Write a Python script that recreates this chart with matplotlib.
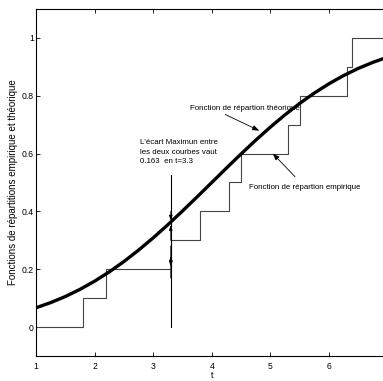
import matplotlib
matplotlib.use("Agg")
import matplotlib.pyplot as plt

# Empirical sample (jump points of the empirical CDF)
sample_t = [1.8, 2.2, 3.3, 3.8, 4.3, 4.5, 5.3, 5.5, 6.3, 6.4]
emp_t = [1.0] + sample_t + [7.0]
emp_F = [0.0, 0.1, 0.2, 0.3, 0.4, 0.5, 0.6, 0.7, 0.8, 0.9, 1.0, 1.0]

# Theoretical CDF values
theo_t = [1.0, 1.25, 1.5, 1.75, 2.0, 2.25, 2.5, 2.75, 3.0, 3.25, 3.5, 3.75, 4.0,
          4.25, 4.5, 4.75, 5.0, 5.25, 5.5, 5.75, 6.0, 6.25, 6.5, 6.75, 7.0]
theo_F = [0.0668, 0.0846, 0.1056, 0.1303, 0.1587, 0.1908, 0.2266, 0.2660, 0.3085,
          0.3538, 0.4013, 0.4503, 0.5, 0.5497, 0.5987, 0.6462, 0.6915, 0.7340,
          0.7734, 0.8092, 0.8413, 0.8697, 0.8944, 0.9154, 0.9332]

t_max = 3.3
F_emp_at = 0.2
F_theo_at = 0.363

xticks = [1, 2, 3, 4, 5, 6]
yticks = [0, 0.2, 0.4, 0.6, 0.8, 1]
ytick_labels = ["0", "0.2", "0.4", "0.6", "0.8", "1"]

plt.rcParams['font.family'] = ['Liberation Sans', 'DejaVu Sans']

fig = plt.figure(figsize=(3.83, 3.81), dpi=100)
ax = fig.add_axes([0.094, 0.0656, 0.918, 0.911])

ax.plot(emp_t, emp_F, drawstyle='steps-post', color='#454545', lw=0.8)
ax.plot(theo_t, theo_F, color='black', lw=2.4, solid_capstyle='butt')

# vertical line at t = 3.3
ax.plot([t_max, t_max], [0.0, 0.525], color='black', lw=0.8)
hp = dict(arrowstyle='-|>,head_length=0.3,head_width=0.1', color='black', lw=0.6,
          shrinkA=0, shrinkB=0)
ax.annotate('', xy=(t_max, F_theo_at - 0.01), xytext=(t_max, 0.30), arrowprops=hp)
ax.annotate('', xy=(t_max, F_theo_at + 0.005), xytext=(t_max, 0.40), arrowprops=hp)
ax.annotate('', xy=(t_max, F_emp_at + 0.01), xytext=(t_max, 0.28), arrowprops=hp)
ax.annotate('', xy=(t_max, F_emp_at + 0.045), xytext=(t_max, 0.17), arrowprops=hp)

fs = 5.7
ax.text(2.775, 0.650, "L'écart Maximun entre\nles deux courbes vaut\n0.163  en t=3.3",
        fontsize=fs, va='top', ha='left', linespacing=1.5)

ap = dict(arrowstyle='-|>,head_length=0.4,head_width=0.15', color='black', lw=0.6,
          shrinkA=0, shrinkB=0)
ax.text(4.57, 0.755, 'Fonction de répartion théorique', fontsize=fs,
        ha='center', va='center')
ax.annotate('', xy=(4.81, 0.679), xytext=(4.23, 0.735), arrowprops=ap)
ax.text(5.59, 0.484, 'Fonction de répartion empirique', fontsize=fs,
        ha='center', va='center')
ax.annotate('', xy=(5.04, 0.600), xytext=(5.42, 0.52), arrowprops=ap)

ax.set_xlim(1, 7)
ax.set_ylim(-0.1, 1.1)
ax.set_xticks(xticks)
ax.set_xticklabels([str(v) for v in xticks])
ax.set_yticks(yticks)
ax.set_yticklabels(ytick_labels)
ax.tick_params(direction='in', length=3, width=0.6, labelsize=6.2, colors='black',
               top=True, right=True)
ax.tick_params(axis='x', pad=4.5)
ax.tick_params(axis='y', pad=1.5)
for s in ax.spines.values():
    s.set_linewidth(0.8)

ax.set_xlabel('t', fontsize=6.5, labelpad=0)
ax.set_ylabel('Fonctions de répartitions empirique et théorique', fontsize=7, labelpad=3)

fig.savefig('out.png', dpi=100)
